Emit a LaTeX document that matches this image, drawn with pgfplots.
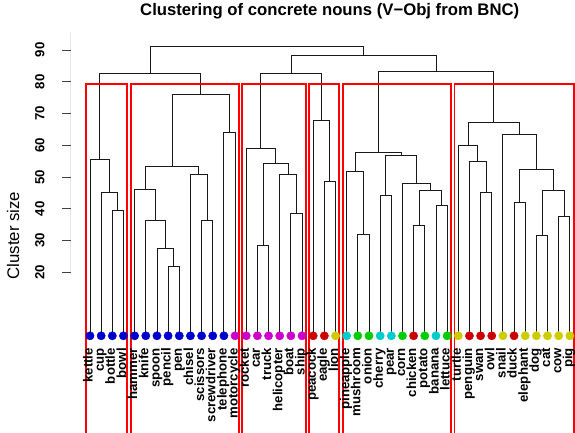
\documentclass[border=0pt]{standalone}
\usepackage{pgfplots}
\pgfplotsset{compat=1.18}
\usepackage{fontspec}
\setmainfont{Liberation Sans}
\definecolor{cblue}{HTML}{0000CC}
\definecolor{cmag}{HTML}{CC00CC}
\definecolor{cred}{HTML}{CC0000}
\definecolor{cyel}{HTML}{CCCC00}
\definecolor{ccyan}{HTML}{00CCCC}
\definecolor{cgreen}{HTML}{00CC00}
\newcommand{\merge}[5]{\addplot[black!90, line width=0.9pt, mark=none] coordinates {(#1,#2) (#1,#5) (#3,#5) (#3,#4)};}
\newcommand{\crect}[2]{\addplot[red, line width=1.9pt, mark=none] coordinates {(#1,-40) (#1,79.4) (#2,79.4) (#2,-40)};}
\begin{document}
\begin{tikzpicture}
\begin{axis}[
  name=ax,
  scale only axis, width=504.2pt, height=433pt,
  xmin=-0.72, xmax=44.46, ymin=-30.6, ymax=105.74,
  hide x axis,
  axis y line*=left,
  y axis line style={draw=none},
  ytick={20,30,40,50,60,70,80,90},
  tick align=outside,
  major tick length=8.7pt,
  ytick style={black!75, line width=0.9pt},
  /pgf/number format/assume math mode=true,
  yticklabel style={rotate=90, anchor=south, yshift=14pt, font=\bfseries\fontsize{13.2}{14}\selectfont},
  title={Clustering of concrete nouns (V−Obj from BNC)},
  title style={at={(0.5135,0.9508)}, anchor=base, font=\bfseries\fontsize{16.7}{18}\selectfont},
  ylabel={Cluster size},
  ylabel style={at={(-0.1146,0.456)}, anchor=center, font=\fontsize{16.8}{18}\selectfont},
  clip=true,
]
\draw[black!75, line width=0.9pt] (axis cs:-0.72,20) -- (axis cs:-0.72,95.4);
% tree
\merge{3}{0}{4}{0}{39.4}
\merge{2}{0}{3.5}{39.4}{45.2}
\merge{1}{0}{2.75}{45.2}{55.4}
\merge{8}{0}{9}{0}{21.9}
\merge{7}{0}{8.5}{21.9}{27.4}
\merge{6}{0}{7.75}{27.4}{36.2}
\merge{5}{0}{6.875}{36.2}{46.1}
\merge{11}{0}{12}{0}{36.2}
\merge{10}{0}{11.5}{36.2}{50.9}
\merge{5.9375}{46.1}{10.75}{50.9}{53.3}
\merge{13}{0}{14}{0}{64.1}
\merge{8.34375}{53.3}{13.5}{64.1}{76.05}
\merge{1.875}{55.4}{10.921875}{76.05}{82.7}
\merge{16}{0}{17}{0}{28.4}
\merge{19}{0}{20}{0}{38.6}
\merge{18}{0}{19.5}{38.6}{50.9}
\merge{16.5}{28.4}{18.75}{50.9}{54.3}
\merge{15}{0}{17.625}{54.3}{59.1}
\merge{22}{0}{23}{0}{48.7}
\merge{21}{0}{22.5}{48.7}{67.9}
\merge{16.3125}{59.1}{21.75}{67.9}{82.5}
\merge{25}{0}{26}{0}{31.9}
\merge{24}{0}{25.5}{31.9}{51.8}
\merge{27}{0}{28}{0}{44.2}
\merge{30}{0}{31}{0}{34.8}
\merge{32}{0}{33}{0}{41.0}
\merge{30.5}{34.8}{32.5}{41.0}{45.7}
\merge{29}{0}{31.5}{45.7}{47.9}
\merge{27.5}{44.2}{30.25}{47.9}{56.9}
\merge{24.75}{51.8}{28.875}{56.9}{57.8}
\merge{36}{0}{37}{0}{45.1}
\merge{35}{0}{36.5}{45.1}{54.8}
\merge{34}{0}{35.75}{54.8}{60.0}
\merge{39}{0}{40}{0}{41.9}
\merge{41}{0}{42}{0}{31.5}
\merge{43}{0}{44}{0}{37.5}
\merge{41.5}{31.5}{43.5}{37.5}{45.9}
\merge{39.5}{41.9}{42.5}{45.9}{52.3}
\merge{38}{0}{41}{52.3}{63.5}
\merge{34.875}{60.0}{39.5}{63.5}{67.2}
\merge{26.8125}{57.8}{37.1875}{67.2}{83.2}
\merge{19.03125}{82.5}{32}{83.2}{88.4}
\merge{6.3984375}{82.7}{25.515625}{88.4}{91.0}
% leaf points
\addplot[only marks, mark=*, mark size=4.15pt, color=cblue] coordinates {(1,0)(2,0)(3,0)(4,0)(5,0)(6,0)(7,0)(8,0)(9,0)(10,0)(11,0)(12,0)(13,0)};
\addplot[only marks, mark=*, mark size=4.15pt, color=cmag] coordinates {(14,0)(15,0)(16,0)(17,0)(18,0)(19,0)(20,0)};
\addplot[only marks, mark=*, mark size=4.15pt, color=cred] coordinates {(21,0)(22,0)(30,0)(35,0)(36,0)(37,0)(39,0)};
\addplot[only marks, mark=*, mark size=4.15pt, color=cyel] coordinates {(23,0)(34,0)(38,0)(40,0)(41,0)(42,0)(43,0)(44,0)};
\addplot[only marks, mark=*, mark size=4.15pt, color=ccyan] coordinates {(24,0)(27,0)(28,0)(32,0)};
\addplot[only marks, mark=*, mark size=4.15pt, color=cgreen] coordinates {(25,0)(26,0)(29,0)(31,0)(33,0)};
% labels
\addplot[draw=none, mark=none, nodes near coords, point meta=explicit symbolic,
  nodes near coords style={rotate=90, anchor=east, inner sep=0pt, text height=0.72em, text depth=0.2em, font=\bfseries\fontsize{13.2}{14}\selectfont, black}]
  table[meta=label] {
x y label
1 -3.8 kettle
2 -3.8 cup
3 -3.8 bottle
4 -3.8 bowl
5 -3.8 hammer
6 -3.8 knife
7 -3.8 spoon
8 -3.8 pencil
9 -3.8 pen
10 -3.8 chisel
11 -3.8 scissors
12 -3.8 screwdriver
13 -3.8 telephone
14 -3.8 motorcycle
15 -3.8 rocket
16 -3.8 car
17 -3.8 truck
18 -3.8 helicopter
19 -3.8 boat
20 -3.8 ship
21 -3.8 peacock
22 -3.8 eagle
23 -3.8 lion
24 -3.8 pineapple
25 -3.8 mushroom
26 -3.8 onion
27 -3.8 cherry
28 -3.8 pear
29 -3.8 corn
30 -3.8 chicken
31 -3.8 potato
32 -3.8 banana
33 -3.8 lettuce
34 -3.8 turtle
35 -3.8 penguin
36 -3.8 swan
37 -3.8 owl
38 -3.8 snail
39 -3.8 duck
40 -3.8 elephant
41 -3.8 dog
42 -3.8 cat
43 -3.8 cow
44 -3.8 pig
};
% cluster rectangles
\crect{0.66}{4.33}
\crect{4.66}{14.33}
\crect{14.66}{20.33}
\crect{20.66}{23.33}
\crect{23.66}{33.33}
\crect{33.66}{44.33}
\end{axis}
\pgfresetboundingbox
\path[use as bounding box] ([xshift=-70.8pt]ax.south west) rectangle (ax.north east);
\end{tikzpicture}
\end{document}
